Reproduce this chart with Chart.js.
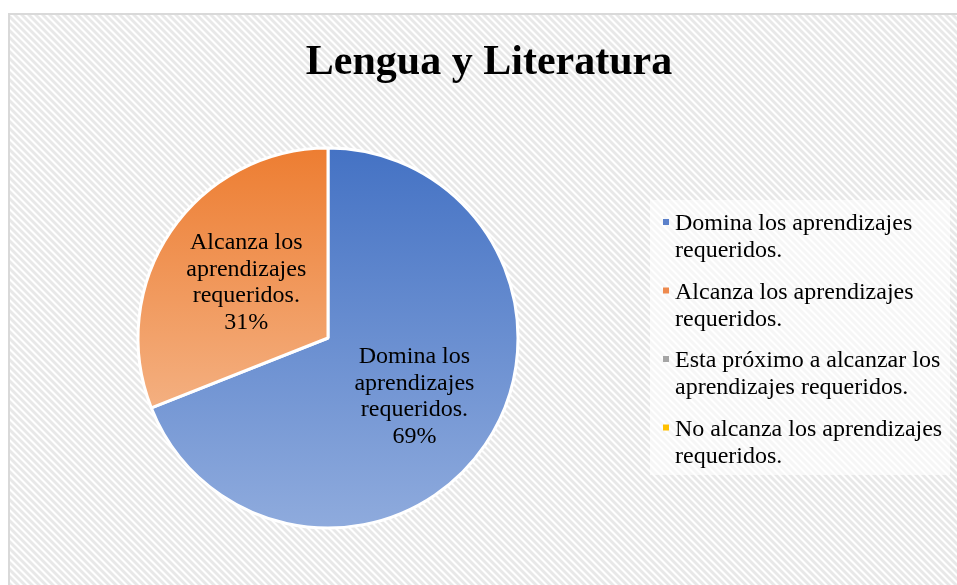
<!DOCTYPE html>
<html>
<head>
<meta charset="utf-8">
<script src="https://cdn.jsdelivr.net/npm/chart.js@4/dist/chart.umd.min.js"></script>
<style>
  html, body { margin: 0; padding: 0; background: #ffffff; }
  #wrap { width: 957px; height: 585px; }
</style>
</head>
<body>
<div id="wrap"><canvas id="c" width="957" height="585"></canvas></div>
<script>
// ---- data ----
const chartTitle = 'Lengua y Literatura';
const categories = [
  'Domina los aprendizajes requeridos.',
  'Alcanza los aprendizajes requeridos.',
  'Esta próximo a alcanzar los aprendizajes requeridos.',
  'No alcanza los aprendizajes requeridos.'
];
const values = [69, 31, 0, 0];
const percentLabels = ['69%', '31%', '0%', '0%'];

// ---- styles ----
const SERIF = "'Times New Roman', 'Liberation Serif', serif";
const gradTop = ['#4472C4', '#ED7D31', '#A5A5A5', '#FFC000'];
const gradBot = ['#8FABDD', '#F7C7A5', '#C9C9C9', '#FFD966'];
const legendMarker = ['#5B80CA', '#EE8A4E', '#A5A5A5', '#FFC000'];
const labelFactor = [0.55, 0.52, 0.5, 0.5];

function makePattern(ctx) {
  const s = 7;
  const p = document.createElement('canvas');
  p.width = s; p.height = s;
  const g = p.getContext('2d');
  g.fillStyle = '#ffffff';
  g.fillRect(0, 0, s, s);
  g.strokeStyle = '#E8E8E8';
  g.lineWidth = 2.8;
  for (const c of [-s, 0, s]) {
    g.beginPath();
    g.moveTo(-1, -1 + c);
    g.lineTo(s + 1, s + 1 + c);
    g.stroke();
  }
  return ctx.createPattern(p, 'repeat');
}

function wrap(ctx, text, maxW) {
  const words = text.split(' ');
  const lines = [];
  let cur = '';
  for (const w of words) {
    const t = cur ? cur + ' ' + w : w;
    if (ctx.measureText(t).width > maxW && cur) { lines.push(cur); cur = w; }
    else cur = t;
  }
  if (cur) lines.push(cur);
  return lines;
}

const bgPlugin = {
  id: 'bg',
  beforeDraw(chart) {
    const ctx = chart.ctx;
    ctx.save();
    ctx.fillStyle = '#ffffff';
    ctx.fillRect(0, 0, chart.width, chart.height);
    ctx.fillStyle = makePattern(ctx);
    ctx.fillRect(9, 14, chart.width, chart.height);
    ctx.strokeStyle = '#D9D9D9';
    ctx.lineWidth = 2;
    ctx.strokeRect(9, 14, chart.width + 20, chart.height + 20);
    // legend backdrop
    ctx.fillStyle = 'rgba(255,255,255,0.6)';
    ctx.fillRect(650, 200, 300, 275);
    // title
    ctx.fillStyle = '#000000';
    ctx.font = 'bold 42px ' + SERIF;
    ctx.textAlign = 'center';
    ctx.textBaseline = 'alphabetic';
    ctx.fillText(chartTitle, 489, 74);
    ctx.restore();
  },
  afterDraw(chart) {
    const ctx = chart.ctx;
    const meta = chart.getDatasetMeta(0);
    ctx.save();
    ctx.font = '24px ' + SERIF;
    ctx.fillStyle = '#000000';
    // slice labels
    ctx.textAlign = 'center';
    ctx.textBaseline = 'middle';
    meta.data.forEach((arc, i) => {
      if (!values[i]) return;
      const p = arc.getProps(['x', 'y', 'startAngle', 'endAngle', 'outerRadius'], true);
      const mid = (p.startAngle + p.endAngle) / 2;
      const f = labelFactor[i];
      const x = p.x + Math.cos(mid) * p.outerRadius * f;
      const y = p.y + Math.sin(mid) * p.outerRadius * f;
      const lines = wrap(ctx, categories[i], 130).concat([percentLabels[i]]);
      const lh = 26.5;
      const y0 = y - (lines.length - 1) * lh / 2;
      lines.forEach((ln, k) => ctx.fillText(ln, x, y0 + k * lh));
    });
    // legend
    ctx.textAlign = 'left';
    ctx.textBaseline = 'alphabetic';
    const lx = 675, mx = 663;
    let by = 230;
    categories.forEach((c, i) => {
      const lines = wrap(ctx, c, 272);
      ctx.fillStyle = legendMarker[i];
      ctx.fillRect(mx, by - 11, 6, 6);
      ctx.fillStyle = '#000000';
      lines.forEach((ln, k) => ctx.fillText(ln, lx, by + k * 27));
      by += 68.5;
    });
    ctx.restore();
  }
};

new Chart(document.getElementById('c'), {
  type: 'pie',
  data: {
    labels: categories,
    datasets: [{
      data: values,
      backgroundColor(ctx) {
        const ca = ctx.chart.chartArea;
        const i = ctx.dataIndex;
        if (!ca) return gradTop[i];
        const g = ctx.chart.ctx.createLinearGradient(0, ca.top, 0, ca.bottom);
        g.addColorStop(0, gradTop[i]);
        g.addColorStop(1, gradBot[i]);
        return g;
      },
      borderColor: '#ffffff',
      borderWidth: values.map(v => v ? 3 : 0)
    }]
  },
  options: {
    responsive: false,
    animation: false,
    layout: { padding: { left: 136.5, top: 146.5, right: 437.5, bottom: 55.5 } },
    plugins: {
      legend: { display: false },
      title: { display: false },
      tooltip: { enabled: false }
    }
  },
  plugins: [bgPlugin]
});
</script>
</body>
</html>
